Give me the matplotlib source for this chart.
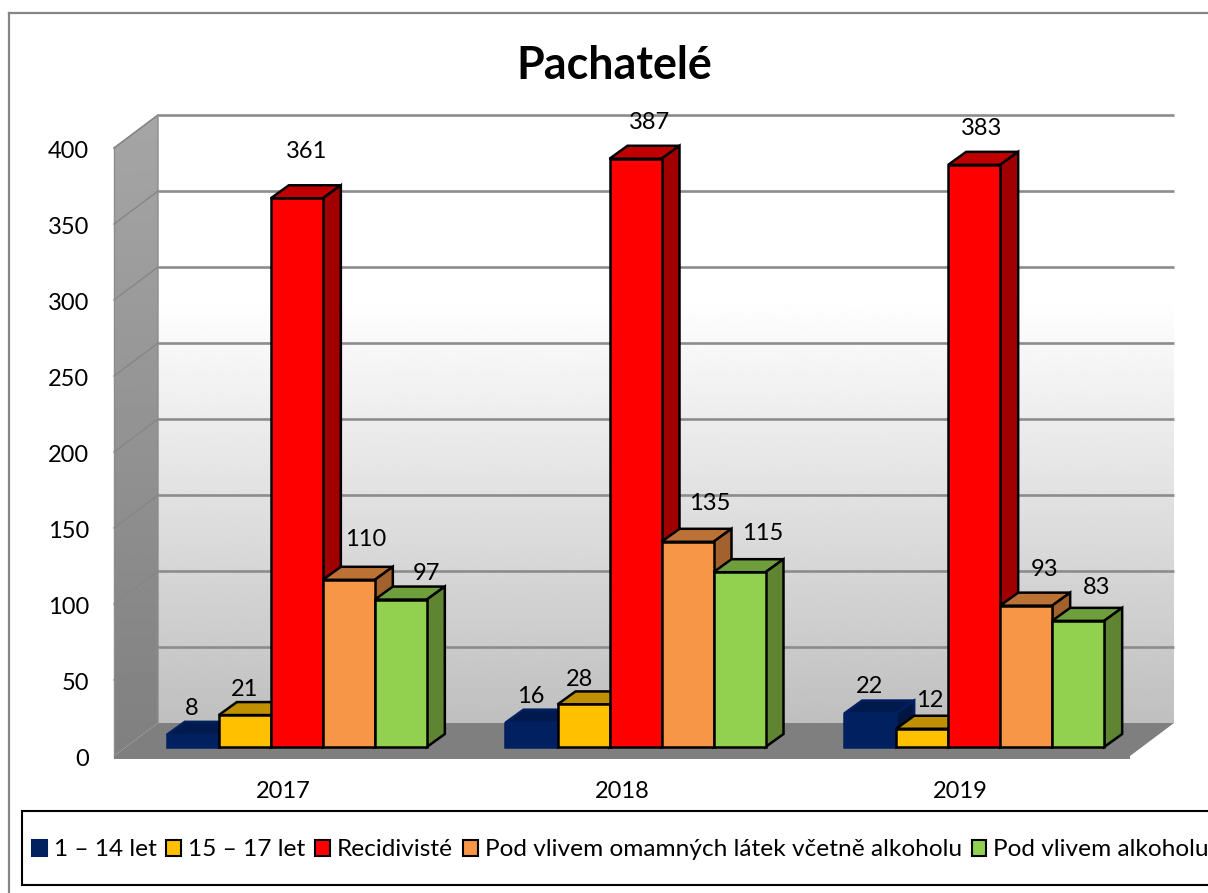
import numpy as np
import matplotlib
matplotlib.use("Agg")
import matplotlib.pyplot as plt
from matplotlib.lines import Line2D
from matplotlib.patches import Patch, Polygon, Rectangle
from matplotlib.transforms import ScaledTranslation

plt.rcParams["font.family"] = ["Lato", "DejaVu Sans"]

years = ["2017", "2018", "2019"]
series_names = [
    "1 – 14 let",
    "15 – 17 let",
    "Recidivisté",
    "Pod vlivem omamných látek včetně alkoholu",
    "Pod vlivem alkoholu",
]
kids = [8, 16, 22]
teens = [21, 28, 12]
repeat = [361, 387, 383]
drugs = [110, 135, 93]
alcohol = [97, 115, 83]
y_ticks = [0, 50, 100, 150, 200, 250, 300, 350, 400]

series_values = [kids, teens, repeat, drugs, alcohol]
front_colors = ["#002060", "#FFC000", "#FF0000", "#F79646", "#92D050"]
top_colors = ["#001A4D", "#C09000", "#C00000", "#BD7235", "#6F9E3D"]
side_colors = ["#001540", "#A67C00", "#A00000", "#A3622D", "#5F8532"]
edge_colors = ["#002060", "black", "black", "black", "black"]

# hand placed label offsets from the bar top, pixels
label_nudges = [
    [(-1, 26), (-1, 26), (-1, 27)],
    [(0, 26), (-4, 25), (8, 28)],
    [(10, 47), (14, 36), (7, 36)],
    [(17, 40), (22, 38), (18, 36)],
    [(26, 26), (23, 39), (18, 33)],
]

W, H = 1208, 893
fig = plt.figure(figsize=(W / 100, H / 100), dpi=100, facecolor="white")
ax = fig.add_axes([114 / W, 1 - 756 / H, (1130 - 114) / W, (756 - 148) / H])
ax.patch.set_visible(False)
for s in ax.spines.values():
    s.set_visible(False)

px_x = 3 / (1130 - 114)
px_y = 400 / (756 - 148)
wall_dx = 44 * px_x
wall_dy = 33 * px_y
bar_w = 52.0 * px_x
bar_shift = 13.5 * px_x
bar_lift = 9 * px_y
depth_dx = 18 * px_x
depth_dy = 13 * px_y

# back wall, white at the top and grey towards the floor
shade = np.interp(np.linspace(0, 1, 300), [0, 0.3, 1], [1, 1, 0.75])
ax.imshow(
    shade[:, None], cmap="gray", vmin=0, vmax=1, aspect="auto", clip_on=False, zorder=1,
    extent=[wall_dx, 3 + wall_dx, wall_dy, 400 + wall_dy],
)

# left wall
wall_pts = [(0, 0), (wall_dx, wall_dy), (wall_dx, 400 + wall_dy), (0, 400)]
wall_shade = np.linspace(0.65, 0.5, 300)[:, None]
im = ax.imshow(
    wall_shade, cmap="gray", vmin=0, vmax=1, aspect="auto", zorder=2,
    extent=[0, wall_dx, 0, 400 + wall_dy],
)
im.set_clip_box(fig.bbox)
im.set_clip_path(Polygon(wall_pts, transform=ax.transData))
ax.plot([0, wall_dx, wall_dx], [400, 400 + wall_dy, wall_dy], color="#8C8C8C", lw=1.0, clip_on=False, zorder=2.4)
ax.plot([0, 0], [0, 400], color="#8C8C8C", lw=1.0, clip_on=False, zorder=2.4)
ax.set_xlim(0, 3)
ax.set_ylim(0, 400)

# floor
ax.add_patch(Polygon(
    [(0, 0), (wall_dx, wall_dy), (3 + wall_dx, wall_dy), (3, 0)],
    facecolor="#7F7F7F", edgecolor="none", clip_on=False, zorder=3,
))
ax.add_patch(Rectangle((0, -2), 3, 2, facecolor="#7F7F7F", edgecolor="none", clip_on=False, zorder=3))

for t in y_ticks:
    if t > 0:
        ax.plot([wall_dx, 3 + wall_dx], [t + wall_dy, t + wall_dy], color="#8C8C8C", lw=1.9,
                clip_on=False, zorder=2.5, solid_capstyle="butt")
        ax.plot([0, wall_dx], [t, t + wall_dy], color="#868686", lw=1.0, clip_on=False, zorder=2.5)

centers = np.arange(len(years)) + 0.5
for i, vals in enumerate(series_values):
    z = 4 + i
    xs = centers + bar_shift + (i - 2) * bar_w
    ax.bar(xs, vals, bar_w, bottom=bar_lift, color=front_colors[i], edgecolor=edge_colors[i],
           linewidth=1.8, clip_on=False, zorder=z + 0.5)
    for x, v in zip(xs, vals):
        left, right = x - bar_w / 2, x + bar_w / 2
        top = v + bar_lift
        ax.add_patch(Polygon(
            [(left, top), (left + depth_dx, top + depth_dy), (right + depth_dx, top + depth_dy), (right, top)],
            facecolor=top_colors[i], edgecolor=edge_colors[i], linewidth=1.8, clip_on=False, zorder=z,
        ))
        ax.add_patch(Polygon(
            [(right, top), (right + depth_dx, top + depth_dy), (right + depth_dx, bar_lift + depth_dy), (right, bar_lift)],
            facecolor=side_colors[i], edgecolor=edge_colors[i], linewidth=1.8, clip_on=False, zorder=z,
        ))
    for j, (x, v) in enumerate(zip(xs, vals)):
        ax.annotate(str(v), (x, v + bar_lift), xytext=label_nudges[i][j], textcoords="offset pixels",
                    ha="center", va="center", fontsize=17, color="black", zorder=20,
                    annotation_clip=False)

ax.set_yticks(y_ticks)
ax.set_xticks(centers)
ax.set_xticklabels(years)
ax.tick_params(axis="both", length=0, labelsize=17, labelcolor="black")
ax.tick_params(axis="y", pad=18)
ax.tick_params(axis="x", pad=18)
# tick labels sit a bit lower than the matplotlib centre
for lbl in ax.get_yticklabels():
    lbl.set_transform(lbl.get_transform() + ScaledTranslation(0, -0.02, fig.dpi_scale_trans))

fig.text(614 / W, 1 - 66 / H, "Pachatelé", ha="center", va="center", fontsize=32.3, fontweight="bold")

# outer chart frame, runs off the picture on the right and at the bottom
fig.add_artist(Line2D([9 / W, 9 / W], [0, 1 - 13 / H], color="#868686", lw=1.6))
fig.add_artist(Line2D([9 / W, 1], [1 - 13 / H, 1 - 13 / H], color="#868686", lw=1.6))

# legend box is wider than the picture
fig.add_artist(Rectangle((22 / W, 1 - 885 / H), 1.1, 74 / H, transform=fig.transFigure,
                         facecolor="white", edgecolor="black", lw=1.5))
handles = [
    Patch(facecolor=c, edgecolor=e, linewidth=1.5) for c, e in zip(front_colors, edge_colors)
]
leg = fig.legend(
    handles, series_names, loc="center left", bbox_to_anchor=(32 / W, 1 - 850 / H), ncol=5,
    frameon=False, fontsize=17.6, borderpad=0, borderaxespad=0,
    handlelength=0.61, handleheight=0.61, handletextpad=0.28, columnspacing=0.4,
)
leg.set_zorder(10)

fig.savefig("out.png", dpi=100)
